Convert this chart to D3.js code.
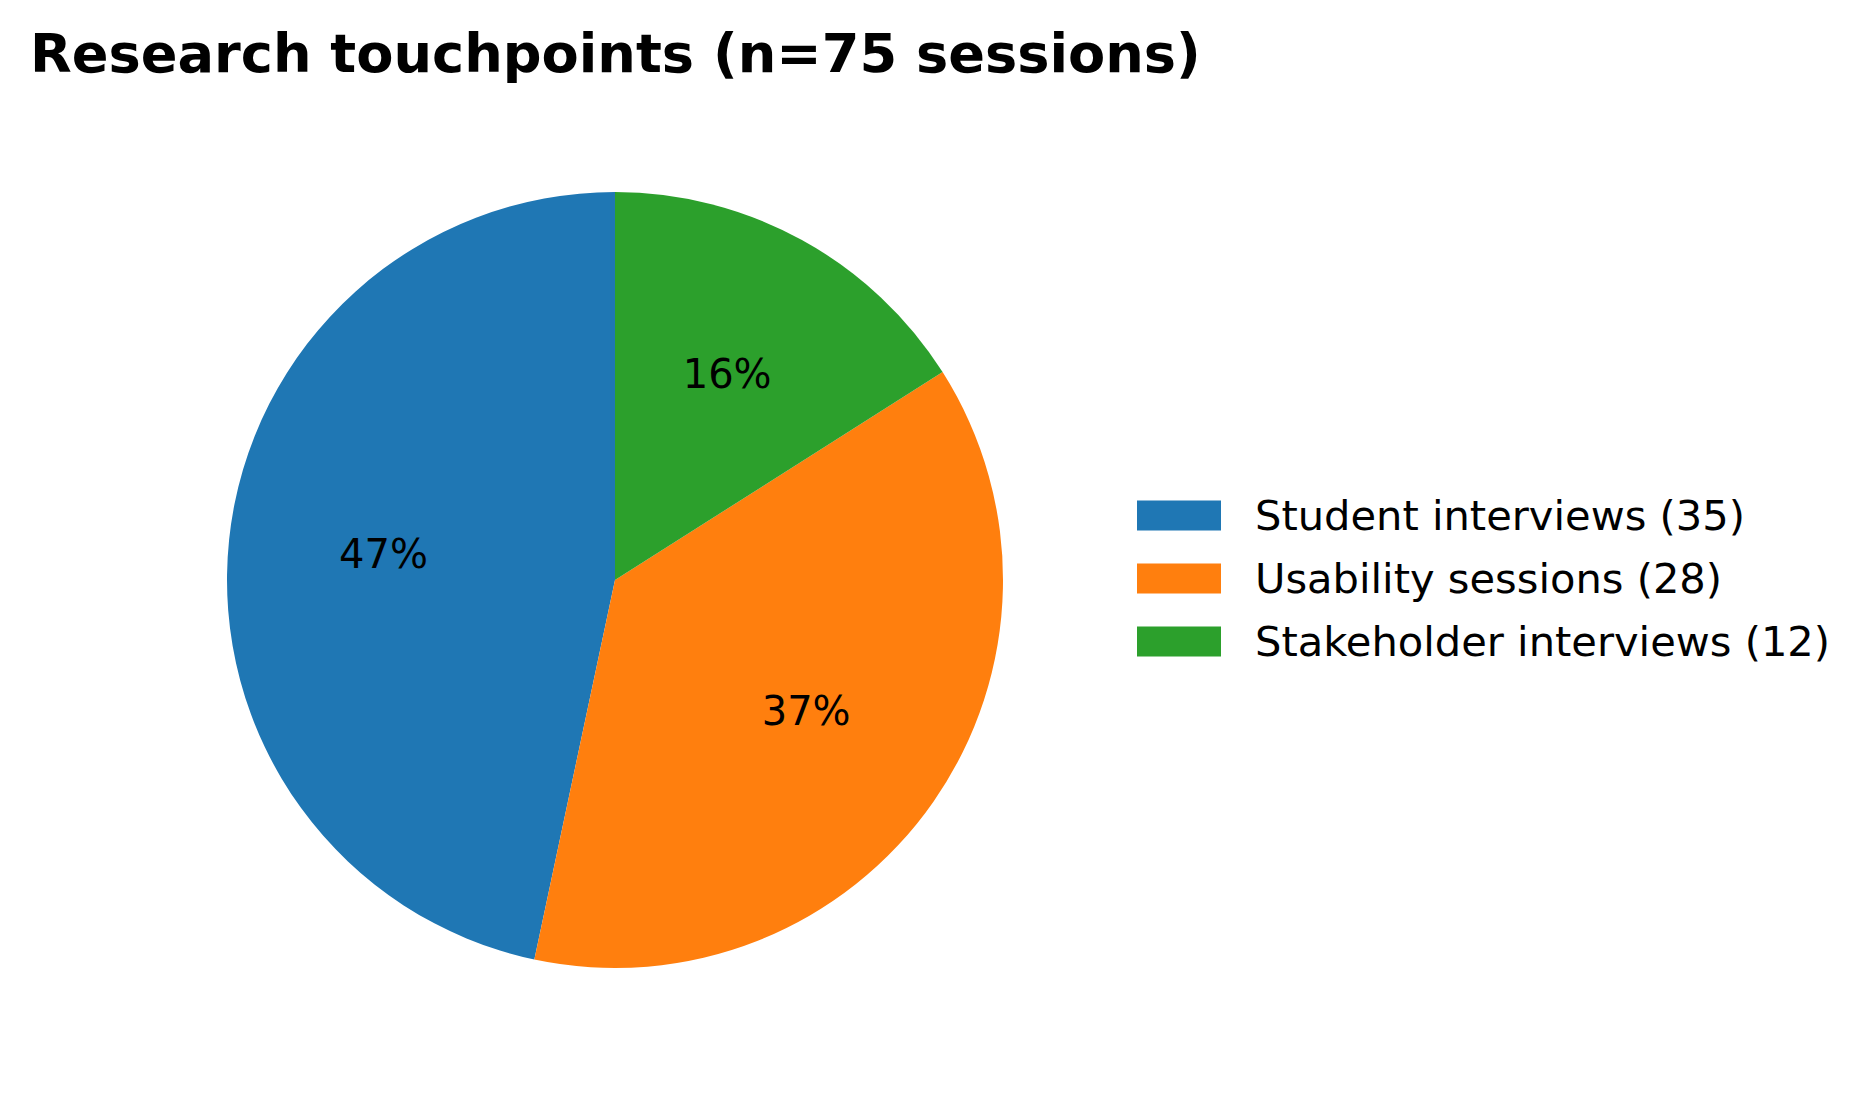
<!DOCTYPE html>
<html><head><meta charset="utf-8">
<script src="https://cdn.jsdelivr.net/npm/d3@7"></script>
<style>html,body{margin:0;padding:0;background:#fff;}svg{display:block;}</style>
</head><body>
<script>
const categories = ["Student interviews", "Usability sessions", "Stakeholder interviews"];
const counts = [35, 28, 12];
const colors = ["#1f77b4", "#ff7f0e", "#2ca02c"];
const titleText = "Research touchpoints (n=75 sessions)";

const W = 1876, H = 1096;
const cx = 615, cy = 580, R = 388;
const svg = d3.select("body").append("svg").attr("width", W).attr("height", H);
svg.append("rect").attr("width", W).attr("height", H).attr("fill", "#fff");

svg.append("text").attr("x", 30).attr("y", 72)
  .attr("font-family", "DejaVu Sans").attr("font-weight", "bold").attr("font-size", 54.2)
  .attr("fill", "#000").text(titleText);

const total = d3.sum(counts);
const data = categories.map((c, i) => ({cat: c, value: counts[i], color: colors[i]}));
const pie = d3.pie().value(d => d.value).sort(null).startAngle(0).endAngle(-2 * Math.PI);
const arcs = pie(data);
const arc = d3.arc().innerRadius(0).outerRadius(R);
const labelArc = d3.arc().innerRadius(R * 0.6).outerRadius(R * 0.6);

const g = svg.append("g").attr("transform", `translate(${cx},${cy})`);
g.selectAll("path.slice").data(arcs).join("path").attr("class", "slice")
  .attr("d", arc).attr("fill", d => d.data.color);
g.selectAll("text.pct").data(arcs).join("text").attr("class", "pct")
  .attr("transform", d => `translate(${labelArc.centroid(d)})`)
  .attr("y", -2)
  .attr("text-anchor", "middle").attr("dominant-baseline", "central")
  .attr("font-family", "DejaVu Sans").attr("font-size", 40).attr("fill", "#000")
  .text(d => Math.round(d.value / total * 100) + "%");

const legend = svg.append("g");
const ly = d3.scaleBand().domain(categories).range([484, 673]);
const items = legend.selectAll("g").data(data).join("g")
  .attr("transform", d => `translate(0,${ly(d.cat) + ly.bandwidth() / 2})`);
items.append("rect").attr("x", 1137).attr("y", -15).attr("width", 84).attr("height", 30)
  .attr("fill", d => d.color);
items.append("text").attr("x", 1255).attr("y", 0).attr("dominant-baseline", "central")
  .attr("font-family", "DejaVu Sans").attr("font-size", 41.6).attr("fill", "#000")
  .text(d => `${d.cat} (${d.value})`);
</script>
</body></html>
